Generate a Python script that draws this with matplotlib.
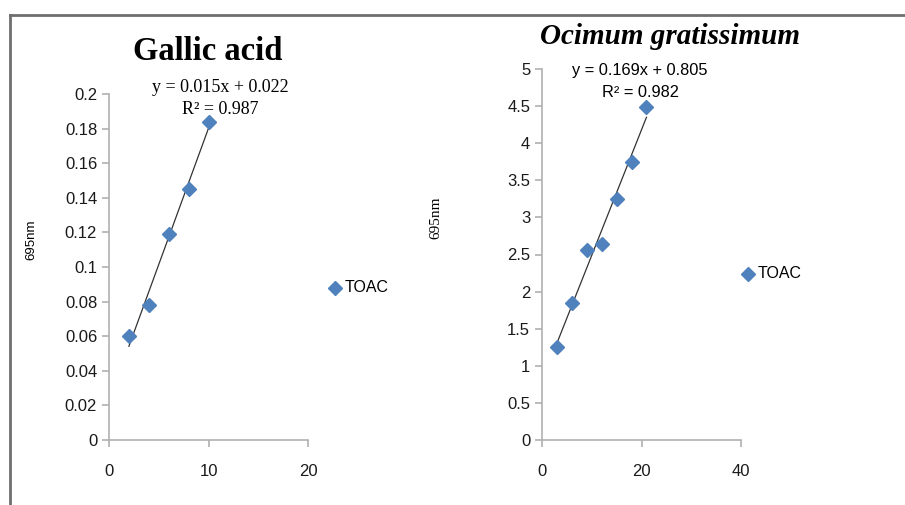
import matplotlib.pyplot as plt
import numpy as np
from matplotlib.lines import Line2D

# gallic acid standard
gallic_x = [2, 4, 6, 8, 10]
gallic_y = [0.060, 0.078, 0.119, 0.145, 0.184]

# Ocimum gratissimum extract
ocimum_x = [3, 6, 9, 12, 15, 18, 21]
ocimum_y = [1.25, 1.85, 2.56, 2.64, 3.25, 3.75, 4.49]

W, H = 905, 505
blue = '#4F81BD'
grid_col = '#b0b0b0'
sans = 'Liberation Sans'
serif = 'Liberation Serif'


def fx(px):
    return px / W


def fy(py):
    return 1 - py / H


def add_axes(x0, x1, y0, y1):
    return fig.add_axes([fx(x0), fy(y1), fx(x1) - fx(x0), fy(y0) - fy(y1)])


def style(ax):
    for s in ['top', 'right']:
        ax.spines[s].set_visible(False)
    for s in ['left', 'bottom']:
        ax.spines[s].set_color(grid_col)
        ax.spines[s].set_linewidth(1.2)
    ax.tick_params(direction='out', length=5, width=1.2, color=grid_col,
                   labelsize=12, labelcolor='#1a1a1a')
    for lab in ax.get_xticklabels() + ax.get_yticklabels():
        lab.set_family(sans)
    ax.tick_params(axis='x', pad=12)


def trend(ax, xs, coef):
    xs = np.array([min(xs), max(xs)], dtype=float)
    # least squares fit drawn over data range
    ax.plot(xs, coef[0] * xs + coef[1], color='#333333', lw=0.9, zorder=2)


fig = plt.figure(figsize=(W / 100, H / 100), dpi=100)

# left chart
ax1 = add_axes(109, 308, 94, 440)
ax1.set_xlim(0, 20)
ax1.set_ylim(0, 0.2)
ax1.set_xticks([0, 10, 20])
ax1.set_yticks(np.arange(0, 0.201, 0.02))
ax1.set_yticklabels(['0', '0.02', '0.04', '0.06', '0.08', '0.1', '0.12', '0.14',
                     '0.16', '0.18', '0.2'])
p = np.polyfit(gallic_x, gallic_y, 1)
trend(ax1, gallic_x, p)
ax1.plot(gallic_x, gallic_y, 'D', color=blue, ms=7.5, zorder=3)
style(ax1)

# right chart
ax2 = add_axes(542, 741, 69, 440)
ax2.set_xlim(0, 40)
ax2.set_ylim(0, 5)
ax2.set_xticks([0, 20, 40])
ax2.set_yticks(np.arange(0, 5.01, 0.5))
ax2.set_yticklabels(['0', '0.5', '1', '1.5', '2', '2.5', '3', '3.5', '4', '4.5', '5'])
p2 = np.polyfit(ocimum_x, ocimum_y, 1)
trend(ax2, ocimum_x, p2)
ax2.plot(ocimum_x, ocimum_y, 'D', color=blue, ms=7.5, zorder=3)
style(ax2)

# titles
fig.text(fx(208), fy(52), 'Gallic acid', family=serif, weight='bold', size=23.5,
         ha='center', va='center')
fig.text(fx(670), fy(36), 'Ocimum gratissimum', family=serif, weight='bold',
         style='italic', size=21, ha='center', va='center')

# regression equations
fig.text(fx(220), fy(88), 'y = 0.015x + 0.022', family=serif, size=13,
         ha='center', va='center')
fig.text(fx(220), fy(109), 'R\u00b2 = 0.987', family=serif, size=13,
         ha='center', va='center')
fig.text(fx(640), fy(71), 'y = 0.169x + 0.805', family=sans, size=11.8,
         ha='center', va='center')
fig.text(fx(640), fy(93), 'R\u00b2 = 0.982', family=sans, size=11.8,
         ha='center', va='center')

# axis labels
fig.text(fx(31), fy(240), '695nm', family=sans, size=9.5, rotation=90,
         ha='center', va='center')
fig.text(fx(436), fy(218), '695nm', family=serif, size=11, rotation=90,
         ha='center', va='center')

# legends
for lx, ly in [(335, 288), (748, 274)]:
    fig.add_artist(Line2D([fx(lx)], [fy(ly)], marker='D', color=blue, ms=7.5,
                          ls='none'))
    fig.text(fx(lx + 10), fy(ly), 'TOAC', family=sans, size=11.5, va='center',
             ha='left')

# outer frame
fig.add_artist(Line2D([fx(10), fx(10)], [fy(15), 0], color='#6f6f6f', lw=2))
fig.add_artist(Line2D([fx(10), 1], [fy(15), fy(15)], color='#6f6f6f', lw=2))

fig.savefig('out.png', dpi=100)
